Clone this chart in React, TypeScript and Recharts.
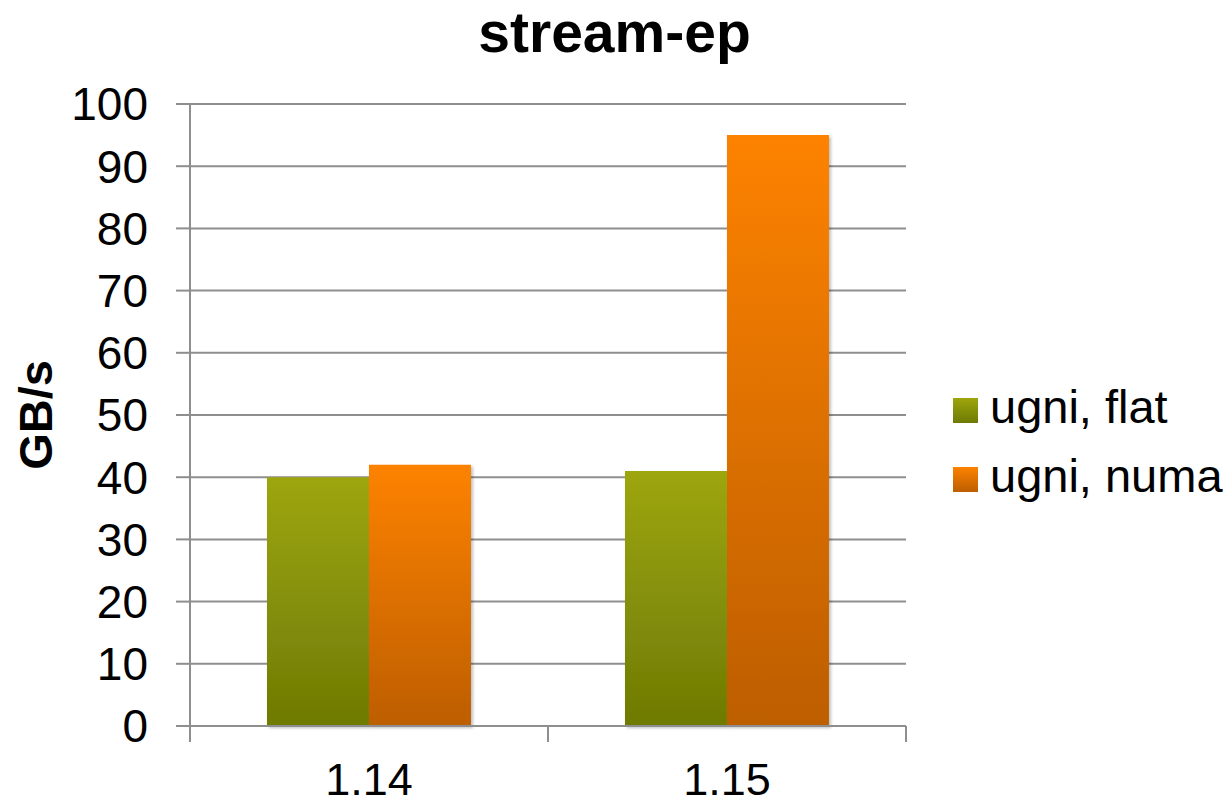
import { BarChart, Bar, XAxis, YAxis, CartesianGrid } from "recharts";

const versions = ["1.14", "1.15"];
const flatValues = [40, 41];
const numaValues = [42, 95];
const yTicks = [0, 10, 20, 30, 40, 50, 60, 70, 80, 90, 100];

const data = versions.map((version, i) => ({
  version,
  flat: flatValues[i],
  numa: numaValues[i],
}));

const W = 1229;
const H = 806;
const MARGIN = { top: 104, right: 323, bottom: 0, left: 0 };
const Y_AXIS_W = 190;
const X_AXIS_H = 80;
const PLOT_BOTTOM = H - X_AXIS_H;
const BAND = (W - MARGIN.right - Y_AXIS_W) / versions.length;

const FONT = '"Liberation Sans", Arial, sans-serif';
const GRID = "#8e8e8e";

const SERIES = [
  { key: "flat", name: "ugni, flat", top: "#9da60b", bottom: "#6e7a05", id: "gFlat" },
  { key: "numa", name: "ugni, numa", top: "#fd8200", bottom: "#bd5e00", id: "gNuma" },
];

function XTick({ x, payload }: any) {
  return (
    <g>
      <line x1={x - BAND / 2} x2={x - BAND / 2} y1={PLOT_BOTTOM} y2={PLOT_BOTTOM + 16} stroke={GRID} strokeWidth={2} />
      <line x1={x + BAND / 2} x2={x + BAND / 2} y1={PLOT_BOTTOM} y2={PLOT_BOTTOM + 16} stroke={GRID} strokeWidth={2} />
      <text x={x} y={795} textAnchor="middle" fontSize={45} fontFamily={FONT} fill="#000">
        {payload.value}
      </text>
    </g>
  );
}

function YLabel() {
  return (
    <text
      x={52}
      y={415}
      transform="rotate(-90 52 415)"
      textAnchor="middle"
      fontSize={47}
      fontWeight="bold"
      fontFamily={FONT}
      fill="#000"
    >
      GB/s
    </text>
  );
}

function LegendBox() {
  return (
    <div style={{ position: "absolute", left: 953, top: 361, fontFamily: FONT }}>
      {SERIES.map((s) => (
        <div key={s.key} style={{ display: "flex", alignItems: "flex-end", height: 69 }}>
          <div
            style={{
              width: 25,
              height: 25,
              marginBottom: 7,
              background: `linear-gradient(${s.top}, ${s.bottom})`,
            }}
          />
          <span style={{ fontSize: 47, lineHeight: "46px", marginLeft: 12, color: "#000", whiteSpace: "nowrap" }}>
            {s.name}
          </span>
        </div>
      ))}
    </div>
  );
}

export default function App() {
  return (
    <div style={{ position: "absolute", left: 0, top: 0, width: W, height: H, background: "#fff", overflow: "hidden" }}>
      <div
        style={{
          position: "absolute",
          left: 0,
          top: 4,
          width: W,
          textAlign: "center",
          fontFamily: FONT,
          fontWeight: "bold",
          fontSize: 57,
          lineHeight: "57px",
          color: "#000",
        }}
      >
        stream-ep
      </div>
      <BarChart width={W} height={H} data={data} margin={MARGIN} barCategoryGap="21.5%" barGap={0}>
        <defs>
          {SERIES.map((s) => (
            <linearGradient key={s.id} id={s.id} x1="0" y1="0" x2="0" y2="1">
              <stop offset="0%" stopColor={s.top} />
              <stop offset="100%" stopColor={s.bottom} />
            </linearGradient>
          ))}
          <filter id="shadow" x="-10%" y="-10%" width="130%" height="120%">
            <feDropShadow dx="2" dy="2" stdDeviation="1.5" floodColor="#000" floodOpacity="0.25" />
          </filter>
        </defs>
        <CartesianGrid vertical={false} stroke={GRID} strokeWidth={2} />
        <XAxis
          dataKey="version"
          height={X_AXIS_H}
          axisLine={{ stroke: GRID, strokeWidth: 2 }}
          tickLine={false}
          tick={<XTick />}
          interval={0}
        />
        <YAxis
          width={Y_AXIS_W}
          domain={[0, 100]}
          ticks={yTicks}
          interval={0}
          tickSize={14}
          tickMargin={28}
          axisLine={{ stroke: GRID, strokeWidth: 2 }}
          tickLine={{ stroke: GRID, strokeWidth: 2 }}
          tick={{ fontSize: 46, fontFamily: FONT, fill: "#000" }}
          label={<YLabel />}
        />
        {SERIES.map((s) => (
          <Bar
            key={s.key}
            dataKey={s.key}
            name={s.name}
            fill={`url(#${s.id})`}
            filter="url(#shadow)"
            isAnimationActive={false}
          />
        ))}
      </BarChart>
      <LegendBox />
    </div>
  );
}
